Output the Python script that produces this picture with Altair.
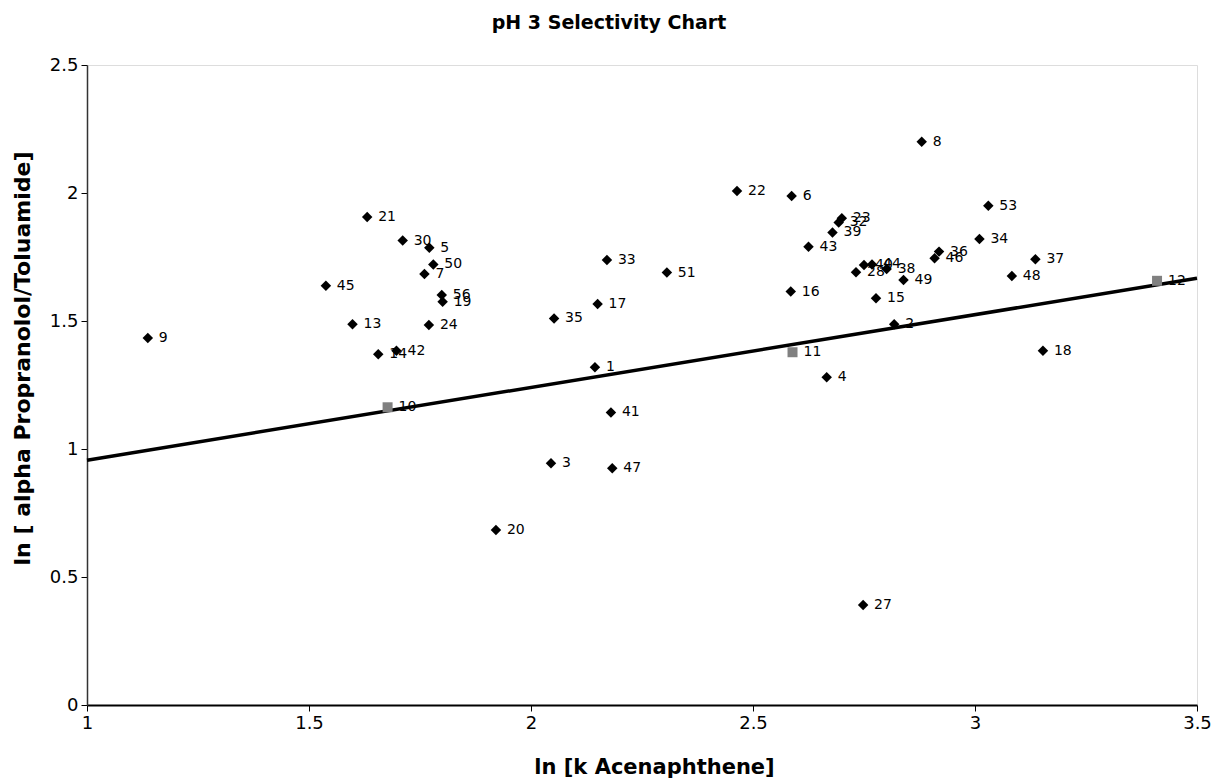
import altair as alt
import pandas as pd

# Compound numbers and their coordinates (ln k acenaphthene, ln alpha)
ids = [1, 2, 3, 4, 5, 6, 7, 8, 9, 10, 11, 12, 13, 14, 15, 16, 17, 18, 19, 20,
       21, 22, 23, 24, 27, 28, 30, 32, 33, 34, 35, 36, 37, 38, 39, 40, 41, 42,
       43, 44, 45, 46, 47, 48, 49, 50, 51, 53, 56]
ln_k = [2.144, 2.818, 2.045, 2.666, 1.771, 2.587, 1.760, 2.880, 1.137, 1.677,
        2.589, 3.410, 1.598, 1.656, 2.777, 2.585, 2.150, 3.153, 1.801, 1.921,
        1.631, 2.464, 2.700, 1.770, 2.748, 2.732, 1.711, 2.693, 2.171, 3.010,
        2.052, 2.919, 3.136, 2.801, 2.679, 2.750, 2.180, 1.697, 2.625, 2.768,
        1.538, 2.909, 2.183, 3.083, 2.839, 1.780, 2.306, 3.030, 1.799]
ln_alpha = [1.319, 1.487, 0.944, 1.280, 1.786, 1.988, 1.684, 2.200, 1.434, 1.163,
            1.378, 1.657, 1.487, 1.370, 1.589, 1.615, 1.566, 1.384, 1.575, 0.684,
            1.906, 2.008, 1.901, 1.484, 0.391, 1.690, 1.814, 1.885, 1.738, 1.820,
            1.510, 1.771, 1.741, 1.703, 1.846, 1.719, 1.143, 1.384, 1.790, 1.721,
            1.638, 1.745, 0.925, 1.676, 1.660, 1.721, 1.689, 1.950, 1.602]
# Reference columns used for the trend line
reference_ids = [10, 11, 12]

df = pd.DataFrame({"id": ids, "x": ln_k, "y": ln_alpha})
df["ref"] = df["id"].isin(reference_ids)
df["label"] = df["id"].astype(str)

FONT = "DejaVu Sans"

x_scale = alt.Scale(domain=[1, 3.5], nice=False, zero=False)
y_scale = alt.Scale(domain=[0, 2.5], nice=False)

x_enc = alt.X("x:Q", scale=x_scale,
              axis=alt.Axis(title="ln [k Acenaphthene]", values=[1, 1.5, 2, 2.5, 3, 3.5],
                            format="~g", grid=False, domainColor="black", domainWidth=2,
                            tickColor="black", tickSize=6, labelFontSize=18,
                            labelFont=FONT, labelColor="black", labelPadding=3,
                            titleFont=FONT, titleFontSize=21, titleFontWeight="bold",
                            titleColor="black", titleX=567, titleY=68,
                            titleBaseline="alphabetic", labelFlush=False))
y_enc = alt.Y("y:Q", scale=y_scale,
              axis=alt.Axis(title="ln [ alpha Propranolol/Toluamide]",
                            values=[0, 0.5, 1, 1.5, 2, 2.5], format="~g",
                            grid=False, domainColor="#333333", domainWidth=1.5,
                            tickColor="black", tickSize=6, labelFontSize=18,
                            labelFont=FONT, labelColor="black", labelPadding=3,
                            titleFont=FONT, titleFontSize=22, titleFontWeight="bold",
                            titleColor="black", titleX=-58, titleY=293,
                            titleBaseline="alphabetic", titleAngle=-90,
                            labelFlush=False))

base = alt.Chart(df)

diamonds = base.transform_filter("!datum.ref").mark_point(
    shape="diamond", filled=True, color="black", size=110, opacity=1
).encode(x=x_enc, y=y_enc)

squares = base.transform_filter("datum.ref").mark_square(
    color="#808080", size=100, opacity=1
).encode(x="x:Q", y="y:Q")

trend = base.transform_filter("datum.ref").transform_regression(
    "x", "y", extent=[1, 3.5]
).mark_line(color="black", strokeWidth=3.5).encode(x="x:Q", y="y:Q")

labels = base.mark_text(
    align="left", baseline="middle", dx=11, fontSize=14, font=FONT, color="black"
).encode(x="x:Q", y="y:Q", text="label:N")

chart = alt.layer(trend, diamonds, squares, labels).properties(
    width=1110,
    height=640,
    autosize=alt.AutoSizeParams(type="none"),
    padding={"left": 87, "top": 65, "right": 16, "bottom": 75},
    title=alt.TitleParams("pH 3 Selectivity Chart", font=FONT, fontSize=19,
                          fontWeight="bold", color="black", anchor="middle",
                          dx=-33, offset=23),
).configure_view(stroke="#777777", strokeWidth=1.5, strokeDash=[2, 1]
).configure(background="white")

chart.save("out.html", embed_options={"renderer": "svg", "actions": False})
